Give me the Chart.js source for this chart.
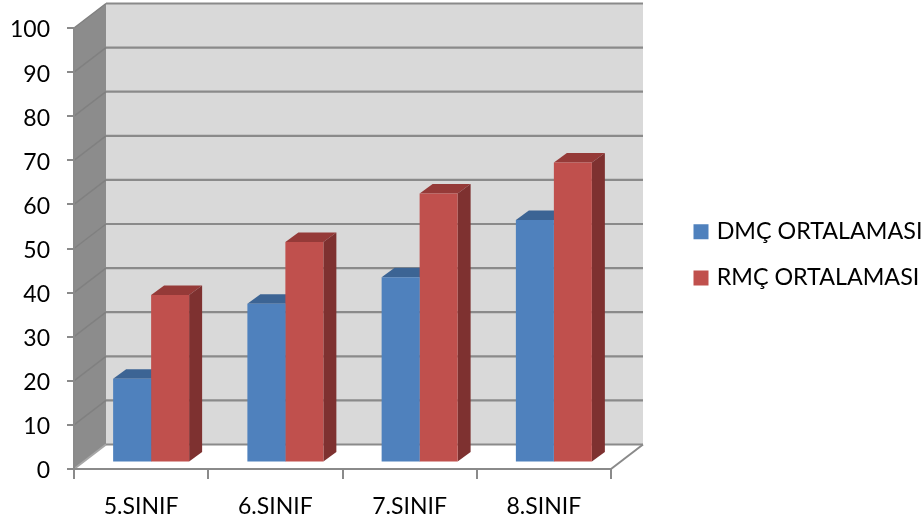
<!DOCTYPE html>
<html>
<head>
<meta charset="utf-8">
<script src="https://cdn.jsdelivr.net/npm/chart.js@4/dist/chart.umd.js"></script>
<style>
  body { margin: 0; background: #fff; }
  canvas { display: block; }
</style>
</head>
<body>
<canvas id="mainChart" width="924" height="522"></canvas>
<script>
const categories = ["5.SINIF", "6.SINIF", "7.SINIF", "8.SINIF"];
const dmcValues = [19, 36, 42, 55];
const rmcValues = [38, 50, 61, 68];

const WALL_DX = 32, WALL_DY = -24.5;   // depth of the whole box
const BAR_DX = 10, BAR_DY = -6.5;      // bars stand in the middle of the floor
const BAR_DEPTH_X = 13, BAR_DEPTH_Y = -9.5;

function poly(ctx, pts, fill) {
  ctx.beginPath();
  pts.forEach((p, i) => i ? ctx.lineTo(p[0], p[1]) : ctx.moveTo(p[0], p[1]));
  ctx.closePath();
  ctx.fillStyle = fill;
  ctx.fill();
}

function line(ctx, x1, y1, x2, y2, color, lw) {
  ctx.beginPath();
  ctx.moveTo(x1, y1);
  ctx.lineTo(x2, y2);
  ctx.strokeStyle = color;
  ctx.lineWidth = lw;
  ctx.stroke();
}

const box3d = {
  id: "box3d",
  afterLayout(chart) {
    // legend sits beside the box, chartArea position only stops it taking space
    const legend = chart.legend, pad = legend.options.labels.padding;
    legend.left = 697 - pad;
    legend.top = 220 - pad;
    legend.right = 924;
    legend.bottom = 522;
  },
  beforeDraw(chart) {
    const ctx = chart.ctx, a = chart.chartArea, y = chart.scales.y;
    const l = a.left, r = a.right, t = a.top, b = a.bottom;
    ctx.save();
    // back wall, left wall, floor edges
    poly(ctx, [[l + WALL_DX, t + WALL_DY], [r + WALL_DX, t + WALL_DY], [r + WALL_DX, b + WALL_DY], [l + WALL_DX, b + WALL_DY]], "#d9d9d9");
    poly(ctx, [[l, t], [l + WALL_DX, t + WALL_DY], [l + WALL_DX, b + WALL_DY], [l, b]], "#8c8c8c");
    y.ticks.forEach(tick => {
      const py = y.getPixelForValue(tick.value);
      if (tick.value > 0) line(ctx, l, py, l + WALL_DX, py + WALL_DY, "#808080", 1.5);
      line(ctx, l + WALL_DX, py + WALL_DY, r + WALL_DX, py + WALL_DY, "#8a8a8a", 2.2);
    });
    line(ctx, l, b, l + WALL_DX, b + WALL_DY, "#a6a6a6", 2);
    line(ctx, r, b, r + WALL_DX, b + WALL_DY, "#8a8a8a", 2);
    ctx.restore();
  },
  beforeDatasetsDraw(chart) {
    const ctx = chart.ctx;
    ctx.save();
    ctx.translate(BAR_DX, BAR_DY);
    // top and side faces go first so the red fronts cover the blue faces
    chart.data.datasets.forEach((ds, i) => {
      chart.getDatasetMeta(i).data.forEach(bar => {
        const x1 = bar.x - bar.width / 2, x2 = bar.x + bar.width / 2;
        poly(ctx, [[x1, bar.y], [x1 + BAR_DEPTH_X, bar.y + BAR_DEPTH_Y], [x2 + BAR_DEPTH_X, bar.y + BAR_DEPTH_Y], [x2, bar.y]], ds.topColor);
        poly(ctx, [[x2, bar.y], [x2 + BAR_DEPTH_X, bar.y + BAR_DEPTH_Y], [x2 + BAR_DEPTH_X, bar.base + BAR_DEPTH_Y], [x2, bar.base]], ds.sideColor);
      });
    });
  },
  afterDatasetsDraw(chart) {
    chart.ctx.restore();
  }
};

new Chart(document.getElementById("mainChart").getContext("2d"), {
  type: "bar",
  data: {
    labels: categories,
    datasets: [
      { label: "DMÇ ORTALAMASI", data: dmcValues, backgroundColor: "#4f81bd", topColor: "#3c6494", sideColor: "#375d8c" },
      { label: "RMÇ ORTALAMASI", data: rmcValues, backgroundColor: "#c0504d", topColor: "#953a38", sideColor: "#7e3130" }
    ]
  },
  options: {
    responsive: false,
    animation: false,
    layout: { padding: { top: 28, right: 313 } },
    datasets: { bar: { barPercentage: 1, categoryPercentage: 0.566 } },
    plugins: {
      tooltip: { enabled: false },
      legend: {
        position: "chartArea",
        align: "start",
        labels: {
          font: { family: "Lato", size: 23.3 },
          color: "#000",
          boxWidth: 8,
          boxHeight: 8,
          padding: 23,
          generateLabels(chart) {
            return Chart.defaults.plugins.legend.labels.generateLabels(chart).map(item => {
              item.lineWidth = 7;
              item.strokeStyle = item.fillStyle;
              return item;
            });
          }
        }
      }
    },
    scales: {
      x: {
        afterFit(scale) { scale.height = 53; },
        border: { color: "#8a8a8a", width: 2 },
        grid: { drawOnChartArea: false, color: "#8a8a8a", lineWidth: 2, tickLength: 10 },
        ticks: { color: "#000", font: { family: "Lato", size: 23 }, padding: 14, maxRotation: 0 }
      },
      y: {
        min: 0,
        max: 100,
        afterFit(scale) { scale.width = 74; scale.paddingTop = 0; scale.paddingBottom = 0; },
        border: { color: "#8a8a8a", width: 2 },
        grid: { drawOnChartArea: false, color: "#8a8a8a", lineWidth: 2, tickLength: 7 },
        ticks: { stepSize: 10, color: "#000", font: { family: "Lato", size: 23 }, padding: 17, labelOffset: 2 }
      }
    }
  },
  plugins: [box3d]
});
</script>
</body>
</html>
